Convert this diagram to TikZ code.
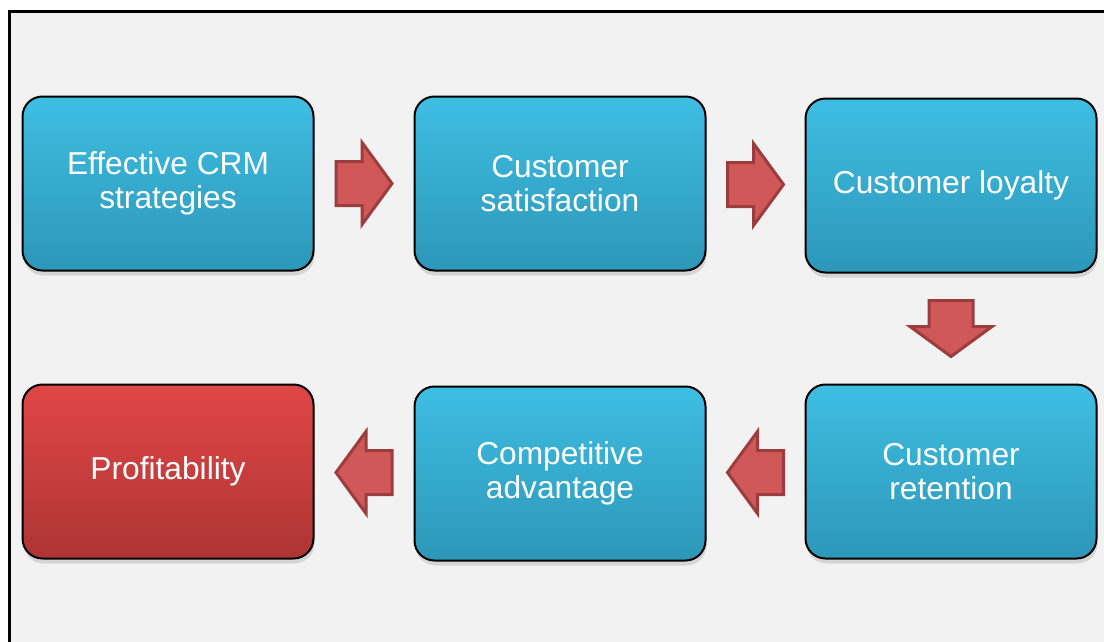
\documentclass[tikz,border=0pt]{standalone}
\usepackage{fontspec}
\setmainfont{Liberation Sans}
\usepackage{tikz}
\usetikzlibrary{positioning, calc, shadows}
\definecolor{bgGray}{RGB}{242, 242, 242}
\definecolor{blueTop}{RGB}{62, 190, 227}
\definecolor{blueBot}{RGB}{45, 151, 184}
\definecolor{redTop}{RGB}{224, 70, 70}
\definecolor{redBot}{RGB}{174, 53, 53}
\definecolor{arrowFg}{RGB}{157, 60, 60}
\definecolor{arrowBg}{RGB}{208, 88, 88}
\tikzstyle{basic} = [rectangle, rounded corners=20pt, minimum width=291pt, minimum height=174pt, line width=2pt, draw=black, align=center, text=white, font=\fontsize{31.7}{34}\selectfont, drop shadow={shadow xshift=1pt, shadow yshift=-5pt, opacity=0.25}]
\tikzstyle{bluestyle} = [top color=blueTop, bottom color=blueBot]
\tikzstyle{redstyle} = [top color=redTop, bottom color=redBot]
\tikzstyle{blockarrow} = [draw=arrowFg, fill=arrowBg, line width=3pt, line join=miter]
\tikzset{flow/.pic={
  \draw [blockarrow] (-28,-22) -- (-2,-22) -- (-2,-41) -- (28,0) -- (-2,41) -- (-2,22) -- (-28,22) -- cycle;
}}

\begin{document}
\begin{tikzpicture}[x=1pt, y=-1pt, node distance=99pt]

\useasboundingbox (0,0) rectangle (1104,641);
\clip (0,0) rectangle (1104,641);
\draw [line width=3pt, fill=bgGray] (9.5,11) rectangle (1130,670);

\node (eff) [basic, bluestyle] at (168,183.5) {Effective CRM\\strategies};
\node (sat) [basic, bluestyle, right=of eff] {Customer\\satisfaction};
\node (loy) [basic, bluestyle, right=98pt of sat, yshift=-2pt] {Customer loyalty};

\node (ret) [basic, bluestyle, below=110pt of loy] {Customer\\retention};
\node (comp) [basic, bluestyle, left=98pt of ret, yshift=-2pt] {Competitive\\advantage};
\node (prof) [basic, redstyle, left=of comp, yshift=2pt] {Profitability};

\pic at ($(eff.east)!0.5!(sat.west)$) {flow};
\pic at ($(sat.east)!0.5!(loy.west)$) {flow};
\pic [rotate=-90] at ($(loy.south)!0.5!(ret.north)$) {flow};
\pic [rotate=180] at ($(ret.west)!0.5!(comp.east)$) {flow};
\pic [rotate=180] at ($(comp.west)!0.5!(prof.east)$) {flow};

\end{tikzpicture}
\end{document}
